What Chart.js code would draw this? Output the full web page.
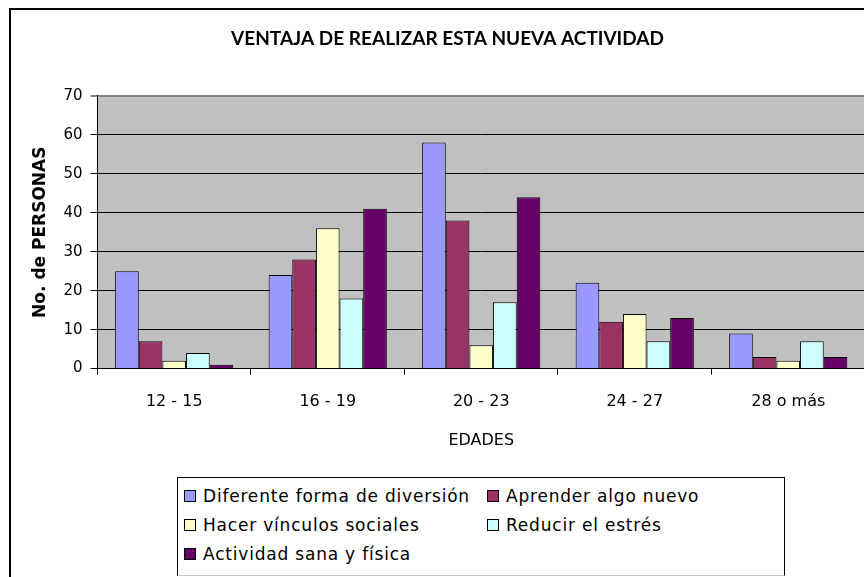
<!DOCTYPE html>
<html>
<head>
<meta charset="utf-8">
<script src="https://cdn.jsdelivr.net/npm/chart.js@4/dist/chart.umd.min.js"></script>
<style>
    html, body { margin: 0; padding: 0; background: #fff; overflow: hidden; width: 864px; height: 577px; }
    #frame { position: absolute; left: 9px; top: 8px; width: 880px; height: 600px; border: 2px solid #000; background: #fff; }
    #chartBox { position: absolute; left: 0; top: 0; width: 880px; height: 470px; }
    #legendBox {
        position: absolute; left: 177px; top: 477px; width: 608px; height: 99px;
        border: 1.5px solid #000; border-bottom-color: #c8c8c8; background: #fff;
        font-family: "DejaVu Sans", sans-serif; font-size: 17px; letter-spacing: 0.8px; color: #000;
        display: grid; grid-template-columns: 303px auto; grid-auto-rows: 29px; padding: 3px 0 0 6px; box-sizing: border-box;
    }
    .item { display: flex; align-items: center; white-space: nowrap; }
    .swatch { width: 10px; height: 10px; border: 1px solid #000; margin-right: 7px; flex: none; }
</style>
</head>
<body>
<div id="frame">
    <div id="chartBox"><canvas id="chart"></canvas></div>
</div>
<div id="legendBox"></div>
<script>
const ageGroups = ['12 - 15', '16 - 19', '20 - 23', '24 - 27', '28 o más'];
const seriesNames = [
    'Diferente forma de diversión',
    'Aprender algo nuevo',
    'Hacer vínculos sociales',
    'Reducir el estrés',
    'Actividad sana y física'
];
const diversion = [25, 24, 58, 22, 9];
const aprender = [7, 28, 38, 12, 3];
const vinculos = [2, 36, 6, 14, 2];
const estres = [4, 18, 17, 7, 7];
const sana = [1, 41, 44, 13, 3];
const seriesColors = ['#9999FF', '#993366', '#FFFFCC', '#CCFFFF', '#660066'];

const FONT = '"DejaVu Sans", sans-serif';

const plotBackground = {
    id: 'plotBackground',
    beforeDraw(chart) {
        const { ctx, chartArea } = chart;
        ctx.save();
        ctx.fillStyle = '#C0C0C0';
        ctx.fillRect(chartArea.left, chartArea.top, chartArea.right - chartArea.left, chartArea.bottom - chartArea.top);
        ctx.restore();
    }
};

function buildDatasets() {
    const values = [diversion, aprender, vinculos, estres, sana];
    return values.map((data, i) => ({
        label: seriesNames[i],
        data: data,
        backgroundColor: seriesColors[i],
        borderColor: '#000',
        borderWidth: 1,
        categoryPercentage: 0.77,
        barPercentage: 1.0
    }));
}

function renderLegend(chart) {
    const legendBox = document.getElementById('legendBox');
    chart.data.datasets.forEach(ds => {
        const item = document.createElement('div');
        item.className = 'item';
        item.innerHTML = `<span class="swatch" style="background:${ds.backgroundColor}"></span><span>${ds.label}</span>`;
        legendBox.appendChild(item);
    });
}

const ctx = document.getElementById('chart').getContext('2d');
const chart = new Chart(ctx, {
    type: 'bar',
    data: { labels: ageGroups, datasets: buildDatasets() },
    options: {
        responsive: true,
        maintainAspectRatio: false,
        animation: false,
        layout: { padding: { left: 19, right: 26, top: 0, bottom: 30 } },
        plugins: {
            legend: { display: false },
            tooltip: { enabled: false },
            title: {
                display: true,
                text: 'VENTAJA DE REALIZAR ESTA NUEVA ACTIVIDAD',
                color: '#000',
                font: { family: 'Lato, sans-serif', size: 19, weight: 'bold' },
                padding: { top: 17, bottom: 46 }
            }
        },
        scales: {
            x: {
                grid: {
                    offset: true,
                    drawOnChartArea: false,
                    drawTicks: true,
                    tickLength: 6,
                    color: '#000'
                },
                border: { color: '#000', width: 1 },
                ticks: { color: '#000', padding: 18, font: { family: FONT, size: 16 } },
                title: {
                    display: true,
                    text: 'EDADES',
                    color: '#000',
                    font: { family: FONT, size: 16 },
                    padding: { top: 1, bottom: 0 }
                }
            },
            y: {
                min: 0,
                max: 70,
                ticks: { stepSize: 10, color: '#000', padding: 8, font: { family: FONT, size: 15 } },
                grid: {
                    color: c => (c.tick && c.tick.value === 70 ? '#808080' : '#000'),
                    lineWidth: c => (c.tick && c.tick.value === 70 ? 2 : 1),
                    tickLength: 7
                },
                border: { color: '#000', width: 1 },
                title: {
                    display: true,
                    text: 'No. de PERSONAS',
                    color: '#000',
                    font: { family: FONT, size: 17, weight: 'bold' },
                    padding: { top: 0, bottom: 5 }
                }
            }
        }
    },
    plugins: [plotBackground]
});

renderLegend(chart);
</script>
</body>
</html>
